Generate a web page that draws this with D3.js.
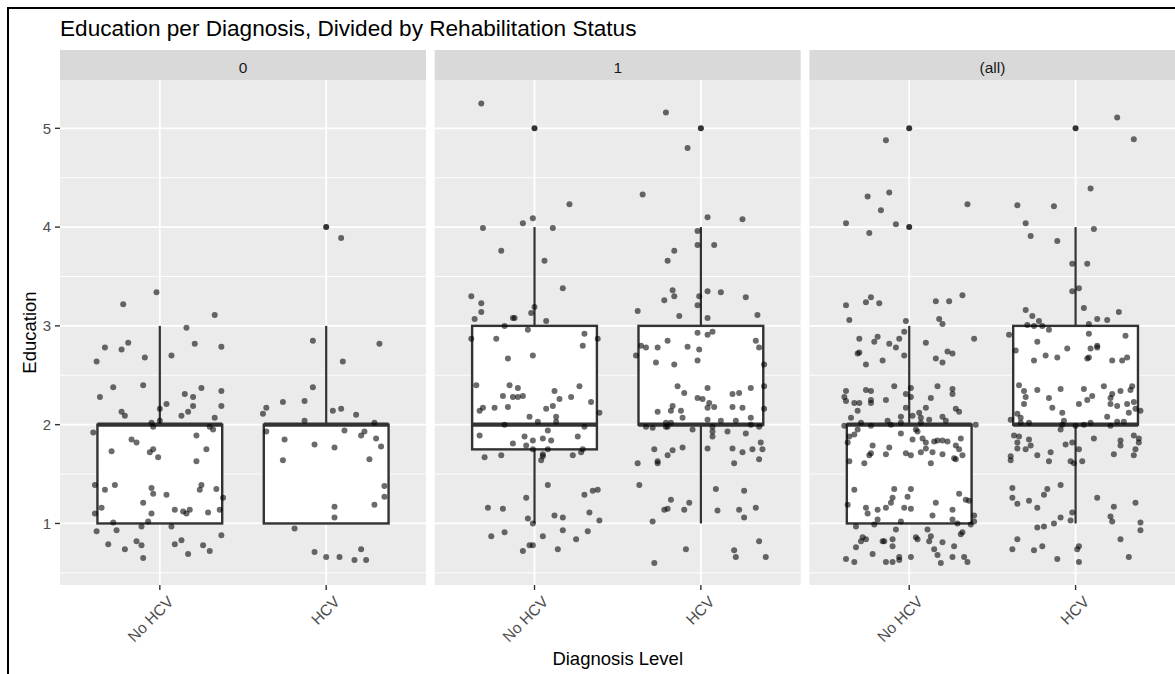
<!DOCTYPE html>
<html>
<head>
<meta charset="utf-8">
<script src="https://cdn.jsdelivr.net/npm/d3@7"></script>
<style>
  body { margin: 0; background: #fff; }
  svg text { font-family: "Liberation Sans", Arial, sans-serif; }
</style>
</head>
<body>
<div id="chart"></div>
<script>
// facets and categories
const facets = ["0", "1", "(all)"];
const categories = ["No HCV", "HCV"];
const yTicks = [1, 2, 3, 4, 5];
const yMinor = [0.5, 1.5, 2.5, 3.5, 4.5];

// box statistics, one entry per facet: [No HCV, HCV]
const q1 = [[1, 1], [1.75, 2], [1, 2]];
const medians = [[2, 2], [2, 2], [2, 2]];
const q3 = [[2, 2], [3, 3], [2, 3]];
const whiskLo = [[1, 1], [1, 1], [1, 1]];
const whiskHi = [[3, 3], [4, 4], [3, 4]];
const outliers = [[[], [4]], [[5], [5]], [[4, 5], [5]]];

// jittered points: [offset from category, education]
const p0NoHcv = [[-0.02,3.34],[-0.22,3.22],[0.33,3.11],[0.16,2.98],[-0.19,2.83],[-0.33,2.78],[-0.23,2.76],[0.21,2.82],[0.37,2.79],[-0.38,2.64],[-0.09,2.68],[0.07,2.70],[-0.28,2.38],[-0.10,2.40],[-0.36,2.28],[0.25,2.37],[0.37,2.34],[0.15,2.31],[0.20,2.28],[0.20,2.19],[0.37,2.19],[-0.23,2.13],[-0.21,2.09],[0.04,2.21],[0.00,2.16],[0.13,2.09],[0.17,2.13],[0.00,2.04],[-0.05,2.02],[-0.04,1.98],[0.33,2.07],[0.30,1.98],[0.32,1.95],[-0.40,1.92],[-0.17,1.85],[-0.14,1.82],[-0.29,1.73],[-0.06,1.72],[-0.04,1.75],[-0.01,1.67],[0.22,1.89],[0.28,1.75],[0.22,1.63],[-0.39,1.39],[-0.33,1.34],[-0.27,1.39],[-0.05,1.36],[-0.04,1.30],[0.04,1.29],[0.25,1.39],[0.24,1.34],[0.34,1.35],[0.38,1.26],[-0.10,1.21],[-0.35,1.16],[-0.39,1.10],[-0.05,1.10],[0.09,1.14],[0.14,1.12],[0.16,1.10],[0.18,1.14],[0.29,1.11],[0.36,1.14],[-0.07,1.02],[-0.28,1.01],[-0.38,0.92],[-0.26,0.93],[-0.11,0.97],[0.07,0.97],[0.37,0.88],[-0.31,0.79],[-0.21,0.74],[-0.14,0.82],[-0.11,0.78],[0.09,0.79],[0.13,0.83],[0.26,0.78],[0.30,0.72],[0.17,0.69],[-0.10,0.65]];
const p0Hcv = [[0.09,3.89],[-0.08,2.85],[0.32,2.82],[0.10,2.64],[-0.08,2.38],[-0.26,2.23],[-0.13,2.24],[-0.36,2.17],[-0.38,2.11],[0.04,2.14],[0.09,2.16],[0.18,2.10],[-0.13,2.04],[0.29,2.02],[-0.36,1.93],[0.11,1.94],[0.23,1.93],[0.21,1.89],[0.30,1.86],[0.33,1.78],[-0.25,1.85],[-0.07,1.80],[0.05,1.77],[-0.26,1.64],[0.26,1.65],[0.35,1.38],[0.35,1.27],[0.29,1.19],[0.05,1.17],[0.05,1.06],[-0.19,0.95],[-0.07,0.71],[0.00,0.66],[0.08,0.66],[0.17,0.63],[0.24,0.63],[0.21,0.74]];
const p1NoHcv = [[-0.32,5.25],[0.21,4.23],[-0.07,4.04],[-0.01,4.09],[-0.31,3.99],[0.11,3.99],[-0.20,3.76],[0.06,3.66],[0.17,3.38],[-0.38,3.30],[-0.32,3.23],[-0.32,3.14],[-0.36,3.07],[-0.13,3.08],[-0.12,3.08],[-0.02,3.13],[0.00,3.19],[0.07,3.05],[-0.18,3.00],[-0.04,2.96],[0.30,2.92],[-0.38,2.87],[-0.23,2.87],[0.38,2.87],[0.29,2.80],[-0.16,2.67],[-0.01,2.70],[-0.35,2.40],[-0.15,2.40],[-0.10,2.37],[-0.19,2.29],[-0.13,2.28],[-0.10,2.28],[-0.07,2.29],[0.12,2.34],[0.15,2.26],[0.22,2.28],[0.27,2.39],[0.34,2.23],[-0.33,2.14],[-0.31,2.17],[-0.24,2.17],[-0.16,2.18],[0.07,2.16],[0.11,2.19],[0.39,2.12],[-0.03,2.08],[0.13,2.08],[0.02,2.03],[0.13,2.03],[-0.18,2.00],[0.30,1.98],[-0.33,1.89],[0.08,1.94],[-0.06,1.88],[0.05,1.86],[0.10,1.84],[-0.01,1.84],[0.26,1.88],[-0.13,1.81],[-0.05,1.79],[-0.01,1.75],[0.08,1.75],[-0.30,1.67],[-0.20,1.69],[0.05,1.70],[0.05,1.68],[0.04,1.64],[0.23,1.69],[0.28,1.72],[0.29,1.75],[0.08,1.39],[-0.05,1.26],[0.30,1.29],[0.35,1.33],[0.38,1.34],[-0.28,1.16],[-0.19,1.15],[-0.04,1.05],[-0.01,1.00],[0.12,1.08],[0.17,1.06],[0.33,1.11],[0.39,1.03],[-0.26,0.87],[-0.18,0.91],[0.05,0.87],[0.17,0.93],[0.25,0.84],[0.32,0.92],[-0.03,0.78],[-0.01,0.78],[-0.07,0.72],[0.14,0.74]];
const p1Hcv = [[-0.21,5.16],[-0.08,4.80],[-0.35,4.33],[0.04,4.10],[0.25,4.08],[-0.02,3.96],[-0.02,3.82],[0.08,3.82],[-0.16,3.76],[-0.20,3.66],[-0.17,3.36],[-0.16,3.30],[-0.22,3.26],[-0.01,3.30],[0.04,3.35],[0.12,3.34],[0.27,3.29],[-0.02,3.21],[-0.38,3.15],[-0.13,3.10],[0.04,3.08],[0.34,3.11],[-0.02,2.93],[0.04,2.91],[0.07,2.94],[-0.20,2.85],[0.33,2.85],[-0.36,2.80],[-0.33,2.78],[-0.26,2.78],[-0.08,2.79],[-0.01,2.76],[0.35,2.78],[-0.39,2.70],[-0.27,2.63],[-0.16,2.61],[-0.02,2.65],[0.38,2.61],[-0.14,2.39],[-0.10,2.32],[0.04,2.37],[0.19,2.31],[0.23,2.32],[0.30,2.37],[0.38,2.39],[-0.02,2.27],[0.01,2.26],[0.05,2.22],[0.04,2.17],[0.08,2.18],[0.19,2.18],[0.25,2.17],[0.38,2.16],[-0.17,2.19],[-0.18,2.14],[-0.26,2.13],[-0.12,2.14],[-0.11,2.07],[0.04,2.05],[0.12,2.04],[0.21,2.04],[0.30,2.07],[-0.21,2.02],[-0.18,2.02],[-0.33,1.98],[-0.29,1.97],[-0.21,1.98],[-0.20,1.98],[-0.05,1.95],[0.07,1.98],[0.07,1.93],[0.07,1.88],[0.16,1.93],[0.27,1.91],[0.30,2.00],[0.35,1.98],[0.36,1.82],[-0.28,1.75],[-0.17,1.74],[-0.11,1.77],[0.04,1.76],[0.19,1.76],[0.25,1.72],[0.31,1.75],[0.37,1.75],[-0.20,1.69],[-0.26,1.63],[-0.26,1.61],[-0.38,1.61],[0.20,1.61],[0.35,1.65],[-0.37,1.39],[0.09,1.35],[0.26,1.33],[-0.18,1.24],[-0.20,1.15],[-0.22,1.14],[-0.10,1.14],[-0.07,1.21],[0.10,1.13],[0.23,1.14],[0.33,1.16],[0.26,1.06],[-0.29,1.02],[-0.09,0.74],[0.20,0.73],[0.21,0.66],[0.35,0.82],[0.39,0.66],[-0.28,0.60]];
const pAllNoHcv = [[-0.14,4.88],[-0.25,4.31],[-0.12,4.35],[-0.17,4.17],[0.35,4.23],[-0.38,4.04],[-0.08,4.03],[-0.24,3.94],[-0.38,3.21],[-0.26,3.24],[-0.23,3.29],[-0.18,3.23],[0.16,3.25],[0.24,3.25],[0.32,3.31],[-0.36,3.06],[-0.02,3.05],[0.18,3.07],[0.20,3.02],[-0.03,2.94],[-0.30,2.87],[-0.21,2.84],[-0.19,2.89],[-0.06,2.87],[-0.12,2.82],[-0.08,2.78],[0.10,2.83],[0.39,2.87],[-0.31,2.72],[-0.30,2.73],[-0.03,2.70],[0.23,2.74],[0.26,2.72],[-0.26,2.61],[-0.16,2.65],[0.16,2.67],[0.20,2.63],[-0.09,2.39],[0.01,2.37],[0.17,2.39],[0.26,2.36],[-0.38,2.34],[-0.26,2.35],[-0.23,2.34],[-0.39,2.28],[-0.02,2.31],[0.01,2.28],[0.26,2.31],[0.13,2.27],[-0.38,2.24],[-0.33,2.22],[-0.30,2.22],[-0.23,2.22],[-0.23,2.25],[-0.14,2.25],[-0.31,2.14],[-0.02,2.17],[0.10,2.17],[0.06,2.12],[0.02,2.09],[0.28,2.16],[0.30,2.13],[-0.35,2.07],[-0.05,2.08],[0.07,2.07],[0.12,2.05],[0.20,2.08],[0.22,2.04],[-0.39,1.99],[-0.29,2.02],[-0.23,1.99],[-0.13,2.04],[-0.11,2.00],[-0.05,2.02],[0.07,2.02],[0.40,2.00],[-0.31,1.95],[-0.33,1.90],[-0.36,1.88],[-0.37,1.82],[0.04,1.95],[0.05,1.93],[0.02,1.85],[-0.05,1.91],[0.08,1.86],[0.10,1.82],[0.15,1.83],[0.17,1.84],[0.20,1.84],[0.23,1.83],[0.31,1.86],[0.28,1.79],[0.30,1.75],[-0.22,1.79],[-0.12,1.77],[-0.23,1.71],[-0.24,1.69],[-0.14,1.70],[-0.02,1.71],[0.01,1.69],[0.07,1.72],[0.10,1.76],[0.14,1.72],[0.20,1.70],[0.27,1.66],[0.28,1.65],[0.32,1.69],[-0.36,1.63],[-0.27,1.61],[0.13,1.61],[-0.33,1.34],[-0.09,1.35],[0.01,1.35],[0.30,1.30],[-0.10,1.26],[-0.01,1.27],[-0.11,1.21],[-0.14,1.16],[-0.19,1.14],[-0.26,1.16],[-0.37,1.19],[-0.25,1.10],[-0.03,1.16],[0.01,1.15],[0.16,1.21],[0.34,1.24],[0.36,1.23],[0.26,1.14],[0.14,1.08],[-0.19,1.04],[-0.05,1.02],[0.26,1.04],[0.29,1.00],[0.39,1.08],[0.39,1.02],[0.37,0.99],[-0.21,0.99],[-0.32,0.97],[-0.08,0.94],[0.11,0.94],[0.13,0.87],[0.32,0.91],[0.31,0.89],[-0.28,0.86],[-0.26,0.84],[0.04,0.86],[0.05,0.84],[-0.29,0.82],[-0.16,0.82],[-0.15,0.82],[-0.10,0.84],[-0.10,0.77],[0.12,0.82],[0.20,0.81],[-0.32,0.76],[0.15,0.74],[0.27,0.77],[-0.22,0.69],[-0.38,0.64],[-0.33,0.61],[-0.14,0.61],[-0.10,0.61],[-0.06,0.66],[-0.06,0.63],[0.01,0.66],[0.17,0.68],[0.19,0.60],[0.26,0.66],[0.33,0.66],[0.35,0.61]];
const pAllHcv = [[0.25,5.11],[0.35,4.89],[0.09,4.39],[-0.35,4.22],[-0.13,4.21],[-0.30,4.04],[0.11,3.98],[-0.27,3.91],[-0.11,3.86],[-0.02,3.63],[0.07,3.63],[-0.02,3.35],[0.02,3.38],[-0.30,3.16],[0.05,3.18],[0.26,3.14],[-0.26,3.10],[-0.22,3.05],[-0.29,3.01],[-0.25,3.00],[-0.20,3.00],[-0.16,2.96],[0.08,3.02],[0.13,3.07],[0.19,3.06],[-0.40,2.91],[0.08,2.92],[0.30,2.90],[-0.23,2.84],[-0.36,2.75],[-0.05,2.77],[0.09,2.77],[0.13,2.80],[0.13,2.78],[-0.18,2.70],[-0.11,2.68],[-0.25,2.65],[0.07,2.67],[0.08,2.68],[0.22,2.65],[0.28,2.65],[0.31,2.68],[-0.34,2.40],[-0.23,2.35],[-0.09,2.36],[0.05,2.36],[0.17,2.39],[0.34,2.39],[-0.31,2.34],[-0.30,2.28],[-0.16,2.27],[0.10,2.29],[0.07,2.25],[0.22,2.31],[0.27,2.34],[0.33,2.35],[0.21,2.27],[-0.31,2.21],[-0.14,2.17],[0.02,2.21],[0.21,2.21],[0.25,2.19],[0.31,2.21],[0.35,2.23],[-0.08,2.12],[0.36,2.16],[0.39,2.14],[0.32,2.12],[-0.35,2.11],[-0.33,2.07],[-0.39,2.05],[0.19,2.08],[-0.07,2.04],[-0.33,2.02],[-0.28,2.02],[-0.08,2.00],[0.00,1.99],[0.05,2.00],[0.09,2.02],[0.25,2.03],[0.29,2.03],[0.21,1.99],[-0.09,1.95],[-0.37,1.89],[-0.34,1.88],[-0.28,1.85],[-0.35,1.82],[0.11,1.86],[0.27,1.84],[0.35,1.89],[0.38,1.86],[0.38,1.82],[-0.02,1.82],[-0.06,1.80],[0.27,1.79],[-0.27,1.79],[-0.35,1.76],[-0.30,1.75],[0.02,1.75],[-0.15,1.72],[0.36,1.75],[-0.23,1.69],[0.23,1.70],[0.35,1.69],[-0.39,1.68],[-0.39,1.64],[-0.16,1.63],[-0.03,1.63],[-0.01,1.61],[0.04,1.63],[-0.38,1.36],[-0.17,1.35],[-0.09,1.39],[-0.38,1.26],[-0.19,1.29],[0.13,1.26],[-0.35,1.20],[-0.28,1.23],[-0.23,1.16],[0.23,1.17],[0.36,1.21],[-0.02,1.11],[-0.09,1.06],[-0.03,1.03],[0.21,1.07],[0.22,1.02],[-0.13,1.00],[-0.19,0.97],[-0.23,0.96],[0.39,1.01],[0.39,0.93],[-0.35,0.84],[0.27,0.84],[-0.38,0.74],[-0.25,0.73],[-0.20,0.77],[0.02,0.77],[0.01,0.74],[-0.11,0.64],[0.02,0.61],[0.32,0.66]];

const jitter = [[p0NoHcv, p0Hcv], [p1NoHcv, p1Hcv], [pAllNoHcv, pAllHcv]];

// layout
const width = 1175, height = 674;
const panelLeft = 60, panelTop = 80, panelW = 366, panelH = 505, gap = 8.7, stripH = 30;

const svg = d3.select('#chart').append('svg')
    .attr('width', width)
    .attr('height', height);

svg.append('rect')
    .attr('x', 8).attr('y', 8)
    .attr('width', width + 10).attr('height', height + 10)
    .attr('fill', '#fff')
    .attr('stroke', '#000')
    .attr('stroke-width', 2);

const yScale = d3.scaleLinear().domain([0.377, 5.489]).range([panelH, 0]);
const xScale = d3.scaleLinear().domain([0.4, 2.6]).range([0, panelW]);
const boxHalf = 0.375;

svg.append('text')
    .attr('x', panelLeft)
    .attr('y', 35.5)
    .attr('font-size', 22.6)
    .attr('fill', '#000')
    .text('Education per Diagnosis, Divided by Rehabilitation Status');

facets.forEach((f, fi) => {
    const g = svg.append('g')
        .attr('transform', 'translate(' + (panelLeft + fi * (panelW + gap)) + ',' + panelTop + ')');

    // strip
    g.append('rect')
        .attr('x', 0).attr('y', -stripH)
        .attr('width', panelW).attr('height', stripH)
        .attr('fill', '#D9D9D9');
    g.append('text')
        .attr('x', panelW / 2).attr('y', -7)
        .attr('text-anchor', 'middle')
        .attr('font-size', 15.5)
        .attr('fill', '#1A1A1A')
        .text(f);

    // panel + grid
    g.append('rect')
        .attr('width', panelW).attr('height', panelH)
        .attr('fill', '#EBEBEB');
    g.selectAll('line.minor').data(yMinor).enter().append('line')
        .attr('x1', 0).attr('x2', panelW)
        .attr('y1', d => yScale(d)).attr('y2', d => yScale(d))
        .attr('stroke', '#fff').attr('stroke-width', 0.9);
    g.selectAll('line.major').data(yTicks).enter().append('line')
        .attr('x1', 0).attr('x2', panelW)
        .attr('y1', d => yScale(d)).attr('y2', d => yScale(d))
        .attr('stroke', '#fff').attr('stroke-width', 1.8);
    g.selectAll('line.vmajor').data(categories).enter().append('line')
        .attr('x1', (d, i) => xScale(i + 1)).attr('x2', (d, i) => xScale(i + 1))
        .attr('y1', 0).attr('y2', panelH)
        .attr('stroke', '#fff').attr('stroke-width', 1.8);

    // boxplots
    categories.forEach((c, ci) => {
        const cx = xScale(ci + 1);
        const bx0 = xScale(ci + 1 - boxHalf), bx1 = xScale(ci + 1 + boxHalf);
        const bg = g.append('g');
        bg.append('line')
            .attr('x1', cx).attr('x2', cx)
            .attr('y1', yScale(q3[fi][ci])).attr('y2', yScale(whiskHi[fi][ci]))
            .attr('stroke', '#333').attr('stroke-width', 2.2);
        bg.append('line')
            .attr('x1', cx).attr('x2', cx)
            .attr('y1', yScale(q1[fi][ci])).attr('y2', yScale(whiskLo[fi][ci]))
            .attr('stroke', '#333').attr('stroke-width', 2.2);
        bg.append('rect')
            .attr('x', bx0).attr('y', yScale(q3[fi][ci]))
            .attr('width', bx1 - bx0)
            .attr('height', yScale(q1[fi][ci]) - yScale(q3[fi][ci]))
            .attr('fill', '#fff')
            .attr('stroke', '#333').attr('stroke-width', 2.4);
        bg.append('line')
            .attr('x1', bx0).attr('x2', bx1)
            .attr('y1', yScale(medians[fi][ci])).attr('y2', yScale(medians[fi][ci]))
            .attr('stroke', '#333').attr('stroke-width', 4.2);
        bg.selectAll('circle').data(outliers[fi][ci]).enter().append('circle')
            .attr('cx', cx).attr('cy', d => yScale(d))
            .attr('r', 3)
            .attr('fill', '#333');
    });

    // jittered points
    categories.forEach((c, ci) => {
        g.append('g').selectAll('circle')
            .data(jitter[fi][ci]).enter().append('circle')
            .attr('cx', d => xScale(ci + 1 + d[0]))
            .attr('cy', d => yScale(d[1]))
            .attr('r', 3)
            .attr('fill', '#000')
            .attr('fill-opacity', 0.58);
    });

    // x axis ticks and labels
    categories.forEach((c, ci) => {
        const cx = xScale(ci + 1);
        g.append('line')
            .attr('x1', cx).attr('x2', cx)
            .attr('y1', panelH).attr('y2', panelH + 5)
            .attr('stroke', '#333').attr('stroke-width', 1.4);
        g.append('text')
            .attr('transform', 'translate(' + (cx + 7) + ',' + (panelH + 10) + ') rotate(-45)')
            .attr('text-anchor', 'end')
            .attr('dy', '0.7em')
            .attr('font-size', 15.5)
            .attr('fill', '#4D4D4D')
            .text(c);
    });
});

// y axis (left panel only)
const yAxis = svg.append('g').attr('transform', 'translate(' + panelLeft + ',' + panelTop + ')');
yTicks.forEach(t => {
    yAxis.append('line')
        .attr('x1', -5).attr('x2', 0)
        .attr('y1', yScale(t)).attr('y2', yScale(t))
        .attr('stroke', '#333').attr('stroke-width', 1.4);
    yAxis.append('text')
        .attr('x', -9).attr('y', yScale(t))
        .attr('dy', '0.35em')
        .attr('text-anchor', 'end')
        .attr('font-size', 15)
        .attr('fill', '#4D4D4D')
        .text(t);
});

svg.append('text')
    .attr('transform', 'translate(35.5,' + (panelTop + panelH / 2) + ') rotate(-90)')
    .attr('text-anchor', 'middle')
    .attr('font-size', 18.5)
    .attr('fill', '#000')
    .text('Education');

svg.append('text')
    .attr('x', panelLeft + (3 * panelW + 2 * gap) / 2)
    .attr('y', 665)
    .attr('text-anchor', 'middle')
    .attr('font-size', 18.5)
    .attr('fill', '#000')
    .text('Diagnosis Level');
</script>
</body>
</html>
